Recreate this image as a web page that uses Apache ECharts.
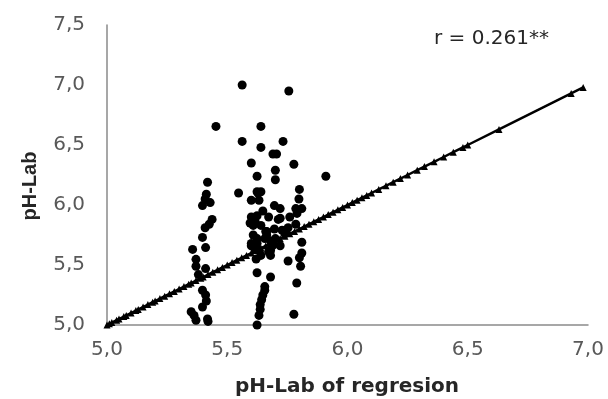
<!DOCTYPE html>
<html><head><meta charset="utf-8">
<script src="https://cdn.jsdelivr.net/npm/echarts@6/dist/echarts.min.js"></script>
<style>html,body{margin:0;padding:0;background:#fff}#c{width:608px;height:399px}</style>
</head><body><div id="c"></div>
<script>
// Observed points: [pH-Lab of regression, pH-Lab]
const obsX = [
 5.562,5.756,5.453,5.640,5.562,5.732,5.640,5.690,5.705,5.600,5.777,5.700,5.910,5.624,5.700,
 5.418,5.547,5.624,5.640,5.800,5.413,5.408,5.429,5.397,5.600,5.632,5.798,5.696,5.720,5.785,5.810,
 5.437,5.600,5.624,5.672,5.425,5.408,5.608,5.640,5.696,5.753,5.785,5.397,5.608,5.624,5.656,5.740,
 5.410,5.356,5.810,5.600,5.616,5.632,5.672,5.688,5.810,5.370,5.800,5.680,5.753,5.370,5.410,5.805,
 5.380,5.624,5.680,5.789,5.656,5.656,5.648,5.643,5.637,5.637,5.632,5.624,5.397,5.410,5.413,5.397,
 5.418,5.350,5.362,5.370,5.420,5.777,5.624,5.664,5.616,5.648,5.712,5.728,5.664,5.680,5.600,5.760,
 5.680,5.700,5.720,5.660,5.620,5.640,5.595,5.720,5.790,5.628
];
const obsY = [
 7.00,6.95,6.655,6.655,6.53,6.53,6.48,6.425,6.425,6.35,6.34,6.29,6.24,6.24,6.21,
 6.19,6.10,6.11,6.11,6.13,6.09,6.05,6.02,5.995,6.04,6.04,6.05,5.995,5.97,5.97,5.97,
 5.88,5.90,5.91,5.90,5.84,5.81,5.83,5.83,5.80,5.81,5.84,5.73,5.75,5.72,5.72,5.76,
 5.645,5.63,5.69,5.66,5.63,5.62,5.61,5.66,5.60,5.547,5.56,5.58,5.533,5.49,5.47,5.49,
 5.42,5.435,5.40,5.35,5.32,5.29,5.25,5.21,5.17,5.13,5.08,5.00,5.29,5.25,5.20,5.15,
 5.05,5.11,5.08,5.04,5.03,5.09,5.68,5.78,5.86,5.95,5.88,5.79,5.75,5.70,5.68,5.90,
 5.62,5.72,5.66,5.78,5.55,5.58,5.85,5.89,5.93,6.10
];
// Regression-predicted values (lie on y = x)
const regVals = [
 5.00,5.01,5.02,5.04,5.05,5.07,5.08,5.10,5.12,5.13,5.15,5.17,5.19,5.20,5.22,5.24,5.26,5.28,5.30,
 5.32,5.34,5.35,5.37,5.39,5.40,5.42,5.44,5.46,5.48,5.50,5.52,5.54,5.56,5.58,5.60,5.62,5.64,5.66,
 5.68,5.70,5.72,5.74,5.76,5.78,5.80,5.82,5.84,5.86,5.88,5.90,5.92,5.94,5.96,5.98,6.00,6.02,6.04,
 6.06,6.08,6.10,6.13,6.16,6.19,6.22,6.25,6.29,6.32,6.36,6.40,6.44,6.48,6.50,6.63,6.93,6.98
];
const xTicks = [5.0,5.5,6.0,6.5,7.0];
const yTicks = [5.0,5.5,6.0,6.5,7.0,7.5];
const xTitle = 'pH-Lab of regresion';
const yTitle = 'pH-Lab';
const rText = 'r = 0.261**';

const obs = obsX.map((x,i)=>[x,obsY[i]]);
const reg = regVals.map(v=>[v,v]);
const fmt = v => v.toFixed(1).replace('.', ',');
const wide = 'DejaVu Sans, sans-serif';
const narrow = 'Liberation Sans, Arial, sans-serif';

const chart = echarts.init(document.getElementById('c'), null, {renderer:'canvas'});
chart.setOption({
  backgroundColor:'#fff',
  animation:false,
  grid:{left:107,right:20,top:25,bottom:74,containLabel:false},
  xAxis:{type:'value',min:5,max:7,interval:0.5,
    axisLine:{show:true,lineStyle:{color:'#8a8a8a',width:1.5}},
    axisTick:{show:false},splitLine:{show:false},
    axisLabel:{fontFamily:wide,fontSize:20,color:'#595959',margin:15,formatter:fmt}},
  yAxis:{type:'value',min:5,max:7.5,interval:0.5,
    axisLine:{show:true,onZero:false,lineStyle:{color:'#8a8a8a',width:1.5}},
    axisTick:{show:false},splitLine:{show:false},
    axisLabel:{fontFamily:wide,fontSize:20,color:'#595959',margin:22,formatter:fmt}},
  graphic:[
    {type:'text',left:434,top:29,style:{text:rText,fontFamily:wide,fontSize:20,fill:'#262626'}},
    {type:'text',x:347,y:387,style:{text:xTitle,fontFamily:wide,fontSize:20,fontWeight:'bold',fill:'#262626',align:'center',verticalAlign:'middle'}},
    {type:'text',x:30,y:186,rotation:Math.PI/2,style:{text:yTitle,fontFamily:narrow,fontSize:20,fontWeight:'bold',fill:'#262626',align:'center',verticalAlign:'middle'}}
  ],
  series:[
    {type:'scatter',data:obs,symbol:'circle',symbolSize:9,itemStyle:{color:'#000',opacity:1},z:3},
    {type:'line',data:reg,symbol:'triangle',symbolSize:7,showSymbol:true,
     lineStyle:{color:'#000',width:2.5},itemStyle:{color:'#000',opacity:1},z:4}
  ]
});
</script></body></html>
